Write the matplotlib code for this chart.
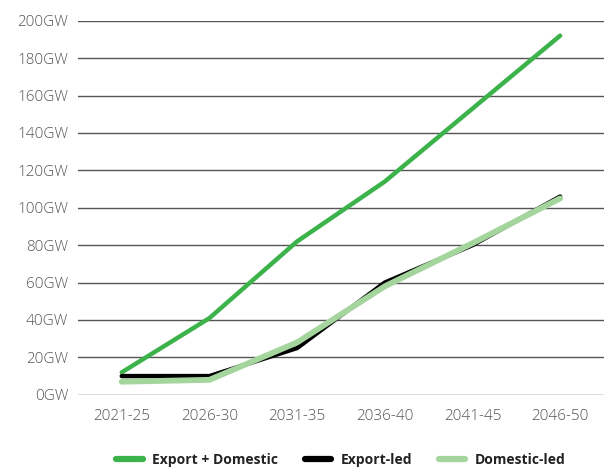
import matplotlib.pyplot as plt

periods = ["2021-25", "2026-30", "2031-35", "2036-40", "2041-45", "2046-50"]
export_domestic = [12, 41, 82, 114, 153, 192]
export_led = [10, 10, 25, 60, 80, 106]
domestic_led = [7, 8, 28, 58, 81, 105]
yticks = [0, 20, 40, 60, 80, 100, 120, 140, 160, 180, 200]

plt.rcParams['font.family'] = ['Open Sans', 'DejaVu Sans']

fig = plt.figure(figsize=(6.04, 4.70), dpi=100)
ax = fig.add_axes([0.129, 0.16, 0.871, 0.796])

x = range(len(periods))
ax.plot(x, export_domestic, color="#3cb34a", lw=3.2, label="Export + Domestic", solid_capstyle="round", zorder=3)
ax.plot(x, export_led, color="#000000", lw=3.2, label="Export-led", solid_capstyle="round", zorder=3)
ax.plot(x, domestic_led, color="#a4d59d", lw=4.2, label="Domestic-led", solid_capstyle="round", zorder=4)

ax.set_xlim(-0.5, 5.5)
ax.set_ylim(0, 200)
ax.set_yticks(yticks)
ax.set_yticklabels([f"{v}GW" for v in yticks])
ax.set_xticks(list(x))
ax.set_xticklabels(periods)
ax.yaxis.grid(True, color="#555555", lw=1.0)
ax.set_axisbelow(True)
for s in ax.spines.values():
    s.set_visible(False)
ax.tick_params(length=0, labelsize=11, colors="#555555")
ax.tick_params(axis="y", pad=7)
ax.tick_params(axis="x", pad=10)
for lab in ax.get_yticklabels() + ax.get_xticklabels():
    lab.set_fontweight("light")

leg = ax.legend(loc="center", bbox_to_anchor=(0.5, -0.175), ncol=3, frameon=False,
                handlelength=1.9, columnspacing=1.9, handletextpad=0.7,
                prop={"weight": "bold", "size": 10})
for t in leg.get_texts():
    t.set_color("#222222")
for h in leg.get_lines():
    h.set_linewidth(4.5)

fig.savefig("out.png", dpi=100)
